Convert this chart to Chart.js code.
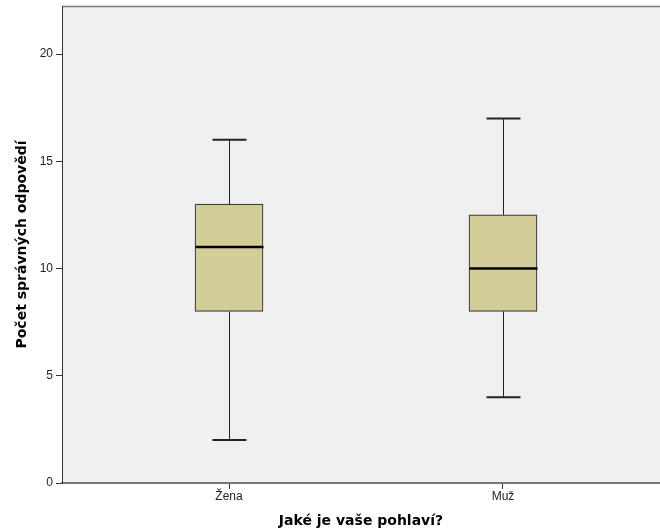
<!DOCTYPE html>
<html>
<head>
<meta charset="utf-8">
<script src="https://cdn.jsdelivr.net/npm/chart.js@4/dist/chart.umd.min.js"></script>
<style>
html,body{margin:0;padding:0;background:#fff;}
#wrap{width:660px;height:532px;}
</style>
</head>
<body>
<div id="wrap"><canvas id="c" width="660" height="532"></canvas></div>
<script>
const categories = ['Žena', 'Muž'];
const minValues = [2, 4];
const q1Values = [8, 8];
const medianValues = [11, 10];
const q3Values = [13, 12.5];
const maxValues = [16, 17];
const yTicks = [0, 5, 10, 15, 20];

const boxData = categories.map((c, i) => ({ x: i + 1, y: [q1Values[i], q3Values[i]] }));

const boxPlugin = {
  id: 'boxExtras',
  beforeDraw(chart) {
    const { ctx, chartArea: a } = chart;
    ctx.save();
    ctx.fillStyle = '#F0F0F0';
    ctx.fillRect(a.left, a.top, a.right - a.left, a.bottom - a.top);
    ctx.strokeStyle = '#7a7a7a';
    ctx.lineWidth = 1.5;
    ctx.beginPath();
    ctx.moveTo(a.left, a.top + 0.5);
    ctx.lineTo(a.right, a.top + 0.5);
    ctx.stroke();
    ctx.restore();
  },
  afterDatasetsDraw(chart) {
    const { ctx } = chart;
    const xs = chart.scales.x, ys = chart.scales.y;
    const meta = chart.getDatasetMeta(0);
    ctx.save();
    categories.forEach((c, i) => {
      const x = Math.round(xs.getPixelForValue(i + 1)) + 0.5;
      const bw = meta.data[i].width;
      const capHalf = bw / 4;
      const yMin = ys.getPixelForValue(minValues[i]);
      const yMax = ys.getPixelForValue(maxValues[i]);
      const yQ1 = ys.getPixelForValue(q1Values[i]);
      const yQ3 = ys.getPixelForValue(q3Values[i]);
      const yMed = ys.getPixelForValue(medianValues[i]);
      ctx.strokeStyle = '#222';
      ctx.lineWidth = 1;
      ctx.beginPath();
      ctx.moveTo(x, yMax); ctx.lineTo(x, yQ3);
      ctx.moveTo(x, yQ1); ctx.lineTo(x, yMin);
      ctx.stroke();
      ctx.lineWidth = 2;
      ctx.beginPath();
      ctx.moveTo(x - capHalf, yMax); ctx.lineTo(x + capHalf, yMax);
      ctx.moveTo(x - capHalf, yMin); ctx.lineTo(x + capHalf, yMin);
      ctx.stroke();
      ctx.strokeStyle = '#000';
      ctx.lineWidth = 2.5;
      ctx.beginPath();
      ctx.moveTo(x - bw / 2, yMed); ctx.lineTo(x + bw / 2, yMed);
      ctx.stroke();
    });
    ctx.restore();
  }
};

new Chart(document.getElementById('c'), {
  type: 'bar',
  data: {
    datasets: [{
      data: boxData,
      backgroundColor: '#D3CE97',
      borderColor: '#3a3a3a',
      borderWidth: 1.2,
      borderSkipped: false,
      barThickness: 68
    }]
  },
  options: {
    responsive: false,
    animation: false,
    layout: { padding: { top: 6, right: 0, left: 0, bottom: 0 } },
    plugins: { legend: { display: false }, tooltip: { enabled: false } },
    scales: {
      x: {
        type: 'linear',
        offset: false,
        min: 0.3905,
        max: 2.573,
        afterBuildTicks(scale) { scale.ticks = categories.map((c, i) => ({ value: i + 1 })); },
        afterFit(scale) { scale.height = 49; scale.paddingLeft = 0; scale.paddingRight = 0; },
        ticks: {
          callback: (v) => categories[v - 1],
          color: '#222',
          font: { family: 'Liberation Sans', size: 12 },
          padding: 0,
          maxRotation: 0
        },
        grid: { offset: false, drawOnChartArea: false, drawTicks: true, tickLength: 6, color: '#333', tickWidth: 1 },
        border: { display: true, color: '#777', width: 2 },
        title: {
          display: true,
          text: 'Jaké je vaše pohlaví?',
          color: '#000',
          font: { family: 'DejaVu Sans', size: 14, weight: 'bold' },
          padding: { top: 0, bottom: 2 }
        }
      },
      y: {
        min: 0,
        max: 22.24,
        afterBuildTicks(scale) { scale.ticks = yTicks.map(v => ({ value: v })); },
        afterFit(scale) { scale.width = 62; scale.paddingTop = 0; scale.paddingBottom = 0; },
        ticks: {
          color: '#222',
          font: { family: 'Liberation Sans', size: 12 },
          padding: 3
        },
        grid: { drawOnChartArea: false, drawTicks: true, tickLength: 6, color: '#333', tickWidth: 1 },
        border: { display: true, color: '#333', width: 1 },
        title: {
          display: true,
          text: 'Počet správných odpovědí',
          color: '#000',
          font: { family: 'DejaVu Sans', size: 14, weight: 'bold' },
          padding: { top: 14, bottom: 0 }
        }
      }
    }
  },
  plugins: [boxPlugin]
});
</script>
</body>
</html>
